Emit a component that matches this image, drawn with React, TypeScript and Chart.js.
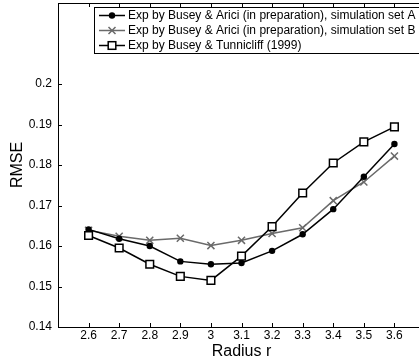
import React, { useEffect, useRef } from 'react';
import { Chart, registerables } from 'chart.js';

Chart.register(...registerables);

const radiusValues = [2.6, 2.7, 2.8, 2.9, 3.0, 3.1, 3.2, 3.3, 3.4, 3.5, 3.6];
const xTickValues = [2.6, 2.7, 2.8, 2.9, 3.0, 3.1, 3.2, 3.3, 3.4, 3.5, 3.6];
const yTickValues = [0.14, 0.15, 0.16, 0.17, 0.18, 0.19, 0.2];

const seriesLabels = [
  'Exp by Busey & Arici (in preparation), simulation set A',
  'Exp by Busey & Arici (in preparation), simulation set B',
  'Exp by Busey & Tunnicliff (1999)',
];

const setA = [0.1641, 0.1618, 0.16, 0.1562, 0.1555, 0.1558, 0.1588, 0.1629, 0.1691, 0.1771, 0.1852];
const setB = [0.1639, 0.1624, 0.1614, 0.1619, 0.1601, 0.1614, 0.1631, 0.1645, 0.1712, 0.1758, 0.1822];
const setC = [0.1626, 0.1595, 0.1555, 0.1525, 0.1515, 0.1575, 0.1648, 0.1731, 0.1805, 0.1857, 0.1894];

const FONT = '"Liberation Sans", Arial, Helvetica, sans-serif';
const GRAY = '#6a6a6a';

function drawMarker(ctx: CanvasRenderingContext2D, kind: string, x: number, y: number, color: string) {
  ctx.save();
  ctx.strokeStyle = color;
  ctx.fillStyle = color;
  ctx.lineWidth = 1.5;
  if (kind === 'circle') {
    ctx.beginPath();
    ctx.arc(x, y, 3.2, 0, Math.PI * 2);
    ctx.fill();
  } else if (kind === 'cross') {
    const r = 3.5;
    ctx.beginPath();
    ctx.moveTo(x - r, y - r);
    ctx.lineTo(x + r, y + r);
    ctx.moveTo(x - r, y + r);
    ctx.lineTo(x + r, y - r);
    ctx.stroke();
  } else {
    const s = 3.8;
    ctx.fillStyle = '#ffffff';
    ctx.fillRect(x - s, y - s, 2 * s, 2 * s);
    ctx.strokeRect(x - s, y - s, 2 * s, 2 * s);
  }
  ctx.restore();
}

const decorPlugin = {
  id: 'decor',
  afterDraw(chart: any) {
    const ctx: CanvasRenderingContext2D = chart.ctx;
    const { left, right, top, bottom } = chart.chartArea;
    const xs = chart.scales.x;
    const ys = chart.scales.y;
    ctx.save();
    ctx.strokeStyle = '#000';
    ctx.lineWidth = 1;
    ctx.beginPath();
    ctx.moveTo(left, Math.round(top) + 0.5);
    ctx.lineTo(right, Math.round(top) + 0.5);
    ctx.stroke();
    const tl = 4;
    ctx.beginPath();
    xTickValues.forEach((v) => {
      const px = Math.round(xs.getPixelForValue(v)) + 0.5;
      ctx.moveTo(px, bottom);
      ctx.lineTo(px, bottom - tl);
      ctx.moveTo(px, top);
      ctx.lineTo(px, top + tl);
    });
    yTickValues.forEach((v) => {
      const py = Math.round(ys.getPixelForValue(v)) + 0.5;
      ctx.moveTo(left, py);
      ctx.lineTo(left + tl, py);
    });
    ctx.stroke();

    const bx = 94.5, by = 7.5, bh = 46;
    ctx.fillStyle = '#fff';
    ctx.fillRect(bx, by, chart.width, bh);
    ctx.strokeStyle = '#000';
    ctx.lineWidth = 1;
    ctx.strokeRect(bx, by, chart.width, bh);
    const rows = [15.5, 30.5, 45.5];
    const kinds = ['circle', 'cross', 'square'];
    const colors = ['#000', GRAY, '#000'];
    ctx.font = '12px ' + FONT;
    ctx.textBaseline = 'middle';
    rows.forEach((ry, i) => {
      ctx.strokeStyle = colors[i];
      ctx.lineWidth = 1.5;
      ctx.beginPath();
      ctx.moveTo(99, ry);
      ctx.lineTo(125, ry);
      ctx.stroke();
      drawMarker(ctx, kinds[i], 112, ry, colors[i]);
      ctx.fillStyle = '#000';
      ctx.fillText(seriesLabels[i], 128, ry + 0.5);
    });
    ctx.restore();
  },
};

export default function App() {
  const ref = useRef<HTMLCanvasElement>(null);

  useEffect(() => {
    if (!ref.current) return;
    const mk = (vals: number[]) => radiusValues.map((x, i) => ({ x, y: vals[i] }));
    const chart = new Chart(ref.current, {
      type: 'line',
      data: {
        datasets: [
          {
            label: seriesLabels[0],
            data: mk(setA),
            borderColor: '#000',
            backgroundColor: '#000',
            borderWidth: 1.5,
            pointStyle: 'circle',
            pointRadius: 3.2,
            pointBorderWidth: 0,
            pointBackgroundColor: '#000',
            tension: 0,
            order: 1,
          },
          {
            label: seriesLabels[1],
            data: mk(setB),
            borderColor: GRAY,
            backgroundColor: GRAY,
            borderWidth: 1.5,
            pointStyle: 'crossRot',
            pointRadius: 5,
            pointBorderWidth: 1.5,
            pointBorderColor: GRAY,
            tension: 0,
            order: 2,
          },
          {
            label: seriesLabels[2],
            data: mk(setC),
            borderColor: '#000',
            backgroundColor: '#fff',
            borderWidth: 1.5,
            pointStyle: 'rect',
            pointRadius: 5.4,
            pointBorderWidth: 1.5,
            pointBorderColor: '#000',
            pointBackgroundColor: '#fff',
            tension: 0,
            order: 0,
          },
        ],
      },
      options: {
        responsive: false,
        animation: false,
        devicePixelRatio: 1,
        layout: { autoPadding: false, padding: { top: 3, right: 15, left: 0, bottom: 0 } },
        plugins: {
          legend: { display: false },
          tooltip: { enabled: false },
        },
        scales: {
          x: {
            type: 'linear',
            min: 2.5,
            max: 3.7,
            afterBuildTicks: (s: any) => {
              s.ticks = xTickValues.map((v) => ({ value: v }));
            },
            afterFit: (s: any) => {
              s.height = 35;
              s.paddingLeft = 0;
              s.paddingRight = 0;
              s.paddingTop = 0;
              s.paddingBottom = 0;
            },
            grid: { display: false, drawTicks: false },
            border: { display: true, color: '#000', width: 1 },
            ticks: {
              color: '#000',
              font: { family: FONT, size: 12 },
              padding: 1,
              maxRotation: 0,
              autoSkip: false,
              callback: (v: any) => String(Math.round(Number(v) * 10) / 10),
            },
            title: {
              display: true,
              text: 'Radius r',
              color: '#000',
              font: { family: FONT, size: 16 },
              padding: { top: 0, bottom: 1 },
            },
          },
          y: {
            type: 'linear',
            min: 0.14,
            max: 0.22,
            afterBuildTicks: (s: any) => {
              s.ticks = yTickValues.map((v) => ({ value: v }));
            },
            afterFit: (s: any) => {
              s.width = 58;
              s.paddingLeft = 0;
              s.paddingRight = 0;
              s.paddingTop = 0;
              s.paddingBottom = 0;
            },
            grid: { display: false, drawTicks: false },
            border: { display: true, color: '#000', width: 1 },
            ticks: {
              color: '#000',
              font: { family: FONT, size: 12 },
              padding: 6,
              callback: (v: any) => String(Math.round(Number(v) * 100) / 100),
            },
            title: {
              display: true,
              text: 'RMSE',
              color: '#000',
              font: { family: FONT, size: 16 },
              padding: { top: 8, bottom: 0 },
            },
          },
        },
      },
      plugins: [decorPlugin],
    });
    return () => chart.destroy();
  }, []);

  return (
    <div style={{ position: 'absolute', left: 0, top: 0, width: 419, height: 362, overflow: 'hidden', background: '#fff' }}>
      <canvas ref={ref} width={440} height={362} style={{ display: 'block', width: 440, height: 362 }} />
    </div>
  );
}
